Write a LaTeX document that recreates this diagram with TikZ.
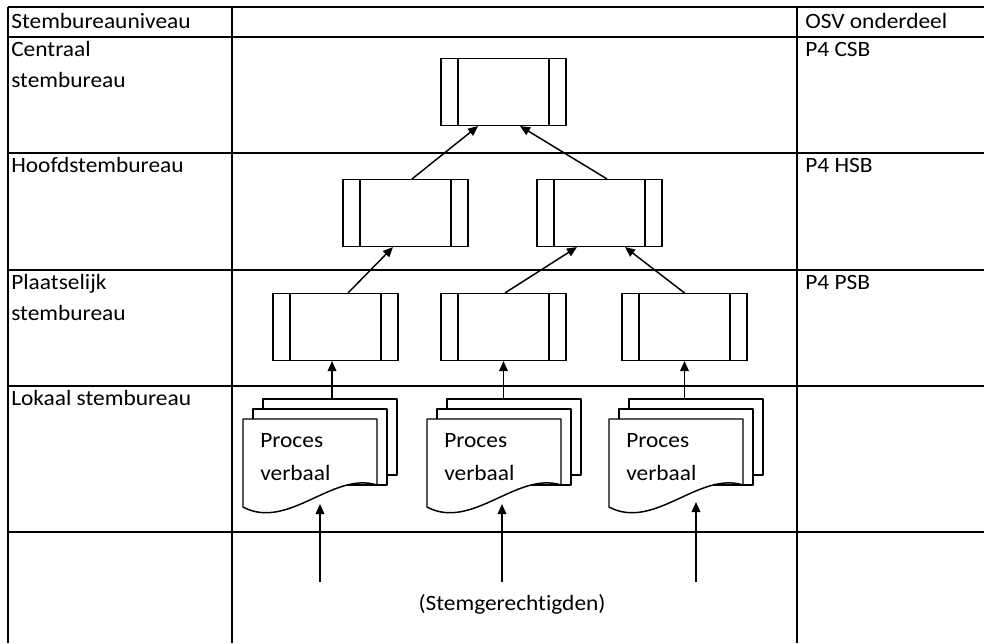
\documentclass[tikz,border=0pt]{standalone}
\usepackage{fontspec}
\setmainfont{Carlito}[FakeStretch=1.07,Ligatures=NoCommon]
\usetikzlibrary{arrows.meta}
\tikzset{
  gridline/.style={line width=1.1pt},
  docline/.style={line width=1.1pt, line join=round},
  procbox/.style={draw, line width=1.1pt, minimum width=93.75pt, minimum height=50pt, inner sep=0pt,
    path picture={
      \draw[line width=1.1pt] ([xshift=12.75pt]path picture bounding box.north west) -- ([xshift=12.75pt]path picture bounding box.south west);
      \draw[line width=1.1pt] ([xshift=-12.75pt]path picture bounding box.north east) -- ([xshift=-12.75pt]path picture bounding box.south east);
    }},
  arr/.style={line width=1.1pt, -{Triangle[length=7.5pt,width=6.5pt]}},
  lbl/.style={anchor=base west, inner sep=0pt, font=\fontsize{16.4}{19}\selectfont},
}
\newcommand\multidocshape[3]{%
  \begin{scope}[shift={(#2,#3)}]
    \draw[docline,fill=white] (20,-20) rectangle (154,56);
    \draw[docline,fill=white] (10,-10) rectangle (144,66);
    \draw[docline,fill=white] (0,0) -- (134,0) -- (134,66) .. controls (90,52) and (45,112) .. (0,88) -- cycle;
    \node[inner sep=0pt, minimum width=100.5pt, minimum height=0pt, anchor=north west] (#1) at (20,-20) {};
    \node[lbl] (#1a) at (17,28) {Proces};
    \node[lbl] (#1b) at (17,61) {verbaal};
  \end{scope}}
\begin{document}
\begin{tikzpicture}[x=0.75pt,y=-0.75pt]
\useasboundingbox (0,0) rectangle (984,643);
% table
\draw[gridline] (8,7) -- (984,7);
\draw[gridline] (8,37) -- (984,37);
\draw[gridline] (8,153) -- (984,153);
\draw[gridline] (8,270) -- (984,270);
\draw[gridline] (8,386) -- (984,386);
\draw[gridline] (8,532) -- (984,532);
\draw[gridline] (8,7) -- (8,643);
\draw[gridline] (232,7) -- (232,643);
\draw[gridline] (797,7) -- (797,643);
% row labels
\node[lbl] (l0) at (11,28) {Stembureauniveau};
\node[lbl] (l1) at (11,56) {Centraal};
\node[lbl] (l1b) at (11,87) {stembureau};
\node[lbl] (l2) at (11,172) {Hoofdstembureau};
\node[lbl] (l3) at (11,289) {Plaatselijk};
\node[lbl] (l3b) at (11,320) {stembureau};
\node[lbl] (l4) at (11,405) {Lokaal stembureau};
\node[lbl] (r0) at (805,28) {OSV onderdeel};
\node[lbl] (r1) at (805,56) {P4 CSB};
\node[lbl] (r2) at (805,172) {P4 HSB};
\node[lbl] (r3) at (805,289) {P4 PSB};
% process boxes
\node[procbox] (c) at (503.5,92) {};
\node[procbox] (h1) at (405.5,213) {};
\node[procbox] (h2) at (599.5,213) {};
\node[procbox] (p1) at (335.5,327) {};
\node[procbox] (p2) at (503.5,327) {};
\node[procbox] (p3) at (684.5,327) {};
% documents
\multidocshape{d1}{243}{419}
\multidocshape{d2}{427}{419}
\multidocshape{d3}{609}{419}
% arrows between boxes
\draw[arr] ([xshift=4.9pt]h1.north) -- ([xshift=-19.1pt]c.south);
\draw[arr] ([xshift=5.6pt]h2.north) -- ([xshift=12.4pt]c.south);
\draw[arr] ([xshift=9.4pt]p1.north) -- ([xshift=-9.4pt]h1.south);
\draw[arr] ([xshift=1.1pt]p2.north) -- ([xshift=-16.9pt]h2.south);
\draw[arr] (p3.north) -- ([xshift=19.1pt]h2.south);
\draw[arr] ([xshift=-2.6pt]p1.south |- d1.north) -- ([xshift=-2.6pt]p1.south);
\draw[arr] (p2.south |- d2.north) -- (p2.south);
\draw[arr] (p3.south |- d3.north) -- (p3.south);
% voters
\coordinate (s1) at (320,582); \coordinate (t1) at (320,504);
\coordinate (s2) at (502,582); \coordinate (t2) at (502,504);
\coordinate (s3) at (696,582); \coordinate (t3) at (696,502);
\draw[arr] (s1) -- (t1);
\draw[arr] (s2) -- (t2);
\draw[arr] (s3) -- (t3);
\node[anchor=base, inner sep=0pt, font=\fontsize{16.4}{19}\selectfont] (v) at (512,610) {(Stemgerechtigden)};
\end{tikzpicture}
\end{document}
